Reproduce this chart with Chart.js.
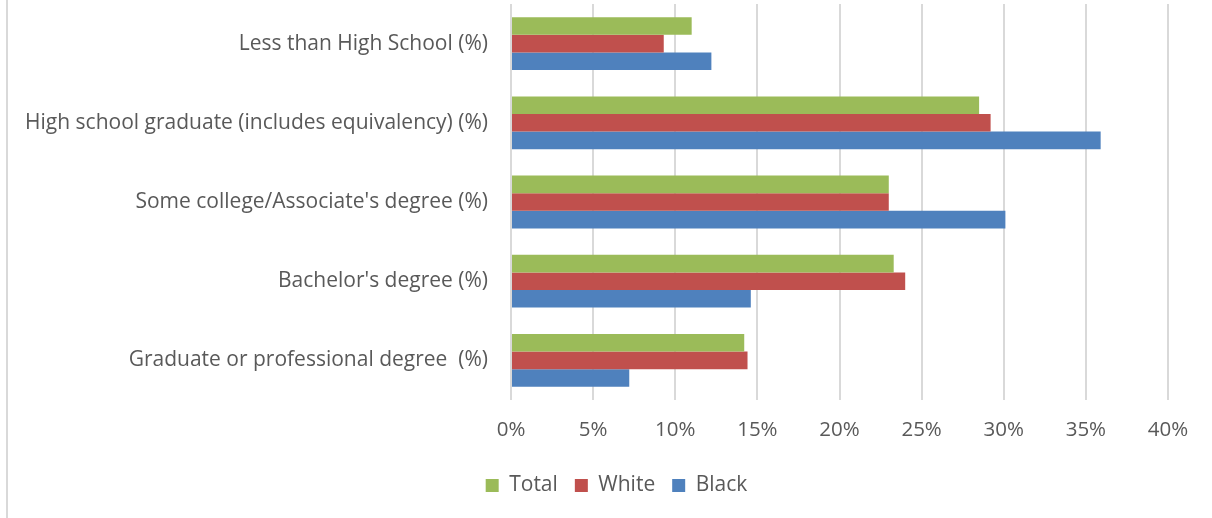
<!DOCTYPE html>
<html>
<head>
<meta charset="utf-8">
<script src="https://cdn.jsdelivr.net/npm/chart.js@4"></script>
<style>
  html, body { margin: 0; padding: 0; background: #fff; }
  #wrap { position: relative; width: 1212px; height: 518px; }
  #wrap::before { content: ""; position: absolute; left: 6px; top: 0; bottom: 0; width: 2px; background: #d9d9d9; }
  canvas { display: block; }
</style>
</head>
<body>
<div id="wrap"><canvas id="c" width="1212" height="518"></canvas></div>
<script>
const categories = [
  "Less than High School (%)",
  "High school graduate (includes equivalency) (%)",
  "Some college/Associate's degree (%)",
  "Bachelor's degree (%)",
  "Graduate or professional degree  (%)"
];
const totalValues = [11.0, 28.5, 23.0, 23.3, 14.2];
const whiteValues = [9.3, 29.2, 23.0, 24.0, 14.4];
const blackValues = [12.2, 35.9, 30.1, 14.6, 7.2];
const seriesNames = ["Total", "White", "Black"];
const xTickMax = 40;
const xTickStep = 5;

const FONT = "'Open Sans', sans-serif";
const TEXT = "#595959";

const legendShift = {
  id: 'legendShift',
  afterLayout(chart) {
    const l = chart.legend;
    if (l) { l.left = 65; l.width = l.right - l.left; }
  }
};

new Chart(document.getElementById('c'), {
  type: 'bar',
  data: {
    labels: categories,
    datasets: [
      { label: seriesNames[0], data: totalValues, backgroundColor: '#9BBB59' },
      { label: seriesNames[1], data: whiteValues, backgroundColor: '#C0504D' },
      { label: seriesNames[2], data: blackValues, backgroundColor: '#4F81BD' }
    ]
  },
  plugins: [legendShift],
  options: {
    indexAxis: 'y',
    responsive: false,
    animation: false,
    devicePixelRatio: 1,
    layout: { padding: { top: 4, right: 44, left: 0, bottom: 12 } },
    datasets: { bar: { categoryPercentage: 0.667, barPercentage: 1.0 } },
    scales: {
      x: {
        min: 0, max: xTickMax,
        ticks: {
          stepSize: xTickStep,
          callback: v => v + '%',
          color: TEXT,
          font: { family: FONT, size: 20.5 },
          padding: 18,
          maxRotation: 0
        },
        grid: { color: '#d9d9d9', lineWidth: 2, drawTicks: false },
        border: { display: false },
        afterFit: s => { s.height = 58; }
      },
      y: {
        ticks: {
          color: TEXT,
          font: { family: FONT, size: 21 },
          padding: 23
        },
        grid: { display: false, drawTicks: false },
        border: { display: false },
        afterFit: s => { s.width = 511; s.paddingTop = 0; s.paddingBottom = 0; }
      }
    },
    plugins: {
      legend: {
        position: 'bottom',
        labels: {
          color: TEXT,
          font: { family: FONT, size: 21 },
          boxWidth: 13,
          boxHeight: 13,
          padding: 17
        }
      },
      tooltip: { enabled: false }
    }
  }
});
</script>
</body>
</html>
